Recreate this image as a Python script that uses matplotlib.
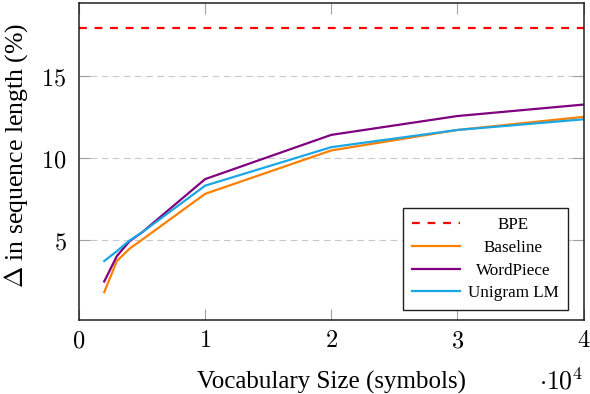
import matplotlib
matplotlib.use("Agg")
import matplotlib.pyplot as plt
from matplotlib.ticker import FixedLocator, FuncFormatter

# ---- data ----
vocab_sizes = [2000, 3000, 4000, 5000, 10000, 20000, 30000, 40000]
bpe_value = 17.9
baseline = [1.8, 3.7, 4.45, 5.0, 7.8, 10.45, 11.7, 12.5]
wordpiece = [2.45, 4.0, 4.9, 5.45, 8.7, 11.4, 12.55, 13.25]
unigram = [3.7, 4.3, 4.95, 5.45, 8.3, 10.65, 11.7, 12.35]
x_ticks = [0, 10000, 20000, 30000, 40000]
y_ticks = [5, 10, 15]

plt.rcParams['mathtext.fontset'] = 'cm'
serif = ['Liberation Serif', 'DejaVu Serif']

fig = plt.figure(figsize=(5.9, 3.94), dpi=100)
ax = fig.add_axes([79/590, 1-320/394, (583.5-79)/590, (320-3)/394])

ax.yaxis.grid(True, color='#c8c8c8', linestyle=(0, (6, 4)), linewidth=0.8)
ax.set_axisbelow(True)

ax.axhline(bpe_value, color='#ff0000', linestyle=(0, (3.5, 3.5)), linewidth=1.6, label='BPE')
ax.plot(vocab_sizes, baseline, color='#ff8000', linewidth=1.6, label='Baseline')
ax.plot(vocab_sizes, wordpiece, color='#800080', linewidth=1.6, label='WordPiece')
ax.plot(vocab_sizes, unigram, color='#1aa7e4', linewidth=1.6, label='Unigram LM')

ax.set_xlim(0, 40000)
ax.set_ylim(0.1, 19.45)
ax.xaxis.set_major_locator(FixedLocator(x_ticks))
ax.yaxis.set_major_locator(FixedLocator(y_ticks))
ax.xaxis.set_major_formatter(FuncFormatter(lambda v, p: r'$%d$' % round(v / 1e4)))
ax.yaxis.set_major_formatter(FuncFormatter(lambda v, p: r'$%d$' % v))
ax.tick_params(axis='both', direction='in', length=8, width=0.8, color='#a0a0a0',
               labelsize=17.5, top=True, right=True)
ax.tick_params(axis='x', pad=6)
ax.tick_params(axis='y', pad=9)
for s in ax.spines.values():
    s.set_color('#202020')
    s.set_linewidth(1.1)

xl = ax.set_xlabel('Vocabulary Size (symbols)', family=serif, fontsize=18)
xl.set_va('baseline')
ax.xaxis.set_label_coords(0.5, -0.2177)
yl = ax.set_ylabel(r'$\Delta$ in sequence length (%)', family=serif, fontsize=18.5)
yl.set_va('center')
ax.yaxis.set_label_coords(-0.125, 0.52)
ax.text(1.0, -0.2177, r'$\cdot 10^4$', transform=ax.transAxes, ha='right', va='baseline', fontsize=18.5)

leg = ax.legend(loc='lower right', bbox_to_anchor=(0.9684, 0.0315), borderaxespad=0,
                frameon=True, fancybox=False,
                edgecolor='#202020', framealpha=1, prop={'family': serif, 'size': 12.3},
                handlelength=2.8, labelspacing=0.4, borderpad=0.5, handletextpad=0.5)
leg.get_frame().set_linewidth(1.0)

fig.canvas.draw()
renderer = fig.canvas.get_renderer()
texts = leg.get_texts()
widths = [t.get_window_extent(renderer).width for t in texts]
wmax = max(widths)
for t, w in zip(texts, widths):
    t.set_position(((wmax - w) / 2, 0))

fig.savefig('out.png', dpi=100)
